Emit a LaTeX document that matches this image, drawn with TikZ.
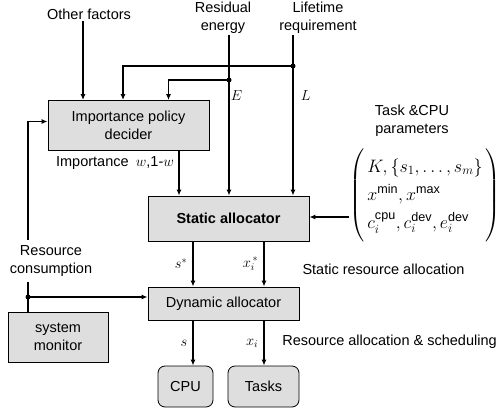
\documentclass[tikz,border=0pt]{standalone}
\usepackage{fix-cm}
\usepackage{amsmath}
\usepackage{fontspec}
\setmainfont{Liberation Sans}
\usetikzlibrary{arrows.meta}
\definecolor{boxgray}{HTML}{DEDEDE}

\tikzset{
  blk/.style={draw, fill=boxgray, line width=0.8pt, align=center, inner sep=0pt,
    font=\fontsize{14.5}{18}\selectfont},
  rblk/.style={blk, rounded corners=7pt},
  lbl/.style={align=center, inner sep=1pt, font=\fontsize{14.5}{18}\selectfont},
  wire/.style={line width=1.6pt},
  arr/.style={wire, -{Latex[length=6pt,width=5pt]}},
}

\begin{document}
\begin{tikzpicture}[x=1pt, y=-1pt]
\useasboundingbox (0,0) rectangle (501,412);

% blocks
\node[blk, minimum width=161pt, minimum height=50pt] (ipd) at (128.5,125.5) {Importance policy\\decider};
\node[blk, minimum width=161pt, minimum height=45pt, font=\fontsize{14.5}{18}\selectfont\bfseries] (sa) at (228.5,218.5) {Static allocator};
\node[blk, minimum width=151pt, minimum height=33pt] (da) at (223.5,303.5) {Dynamic allocator};
\node[blk, minimum width=100pt, minimum height=50pt] (mon) at (58,337) {system\\monitor};
\node[rblk, minimum width=55pt, minimum height=41pt] (cpu) at (185.5,386.5) {CPU};
\node[rblk, minimum width=71pt, minimum height=41pt] (tasks) at (263.5,386.5) {Tasks};

% inputs
\node[lbl] (other) at (89,14) {Other factors};
\node[lbl] (resid) at (223,18) {Residual\\energy};
\node[lbl] (life) at (318,18) {Lifetime\\requirement};
\node[lbl] (param) at (412,121) {Task \&CPU\\parameters};
\node[inner sep=0pt, font=\fontsize{18}{23}\selectfont] (mat) at (425,196) {$\left(\rule[-43pt]{0pt}{86pt}\,\begin{array}{@{}l@{}}
  K,\{s_1,\ldots,s_m\}\\[5pt]
  x^{\text{min}},x^{\text{max}}\\[5pt]
  c_i^{\text{cpu}},c_i^{\text{dev}},e_i^{\text{dev}}
\end{array}\,\right)$};

\coordinate (jL) at (293,66);
\coordinate (jE) at (229,80);
\coordinate (jR) at (28,297);
\coordinate (cO) at (83,0);
\coordinate (cS) at (193,0);
\coordinate (cX) at (264,0);

\draw[arr] (other.south -| cO) -- (ipd.north -| cO);
\draw[arr] (resid.south -| jE) -- (jE |- sa.north) node[lbl, pos=0.38, right] {$E$};
\draw[arr] (life.south -| jL) -- (jL |- sa.north) node[lbl, pos=0.38, right=6pt] {$L$};
\draw[arr] (jL) -| ([xshift=-5.5pt]ipd.north);
\draw[arr] (jE) -| ([xshift=40pt]ipd.north);
\fill (jL) circle (2.5pt) (jE) circle (2.5pt);

\draw[arr] ([xshift=50.5pt]ipd.south) -- ([xshift=50.5pt]ipd.south |- sa.north);
\node[lbl] (imp) at (115,163) {Importance\enspace$w$,1-$w$};
\draw[arr] ([yshift=-21pt]mat.west) -- ([yshift=-21pt]mat.west -| sa.east);

% static -> dynamic -> cpu/tasks
\draw[arr] (sa.south -| cS) -- (da.north -| cS) node[lbl, midway, left=4pt] {$s^*$};
\draw[arr] (sa.south -| cX) -- (da.north -| cX) node[lbl, midway, left=4pt] {$x_i^{\,*}$};
\draw[arr] (da.south -| cS) -- (cpu.north -| cS) node[lbl, midway, left=4pt] {$s$};
\draw[arr] (da.south -| cX) -- (tasks.north -| cX) node[lbl, midway, left=4pt] {$x_i$};
\node[lbl] (sra) at (383.5,269) {Static resource allocation};
\node[lbl] (ras) at (389.5,342) {Resource allocation \& scheduling};

% monitor feedback
\draw[wire] (mon.north -| jR) -- (jR);
\draw[arr] (jR) |- ([yshift=4pt]ipd.west);
\draw[arr] (jR) -- (jR -| da.west);
\fill (jR) circle (2.5pt);
\node[lbl, fill=white, inner ysep=6pt] (cons) at (51,261) {Resource\\consumption};
\end{tikzpicture}
\end{document}
